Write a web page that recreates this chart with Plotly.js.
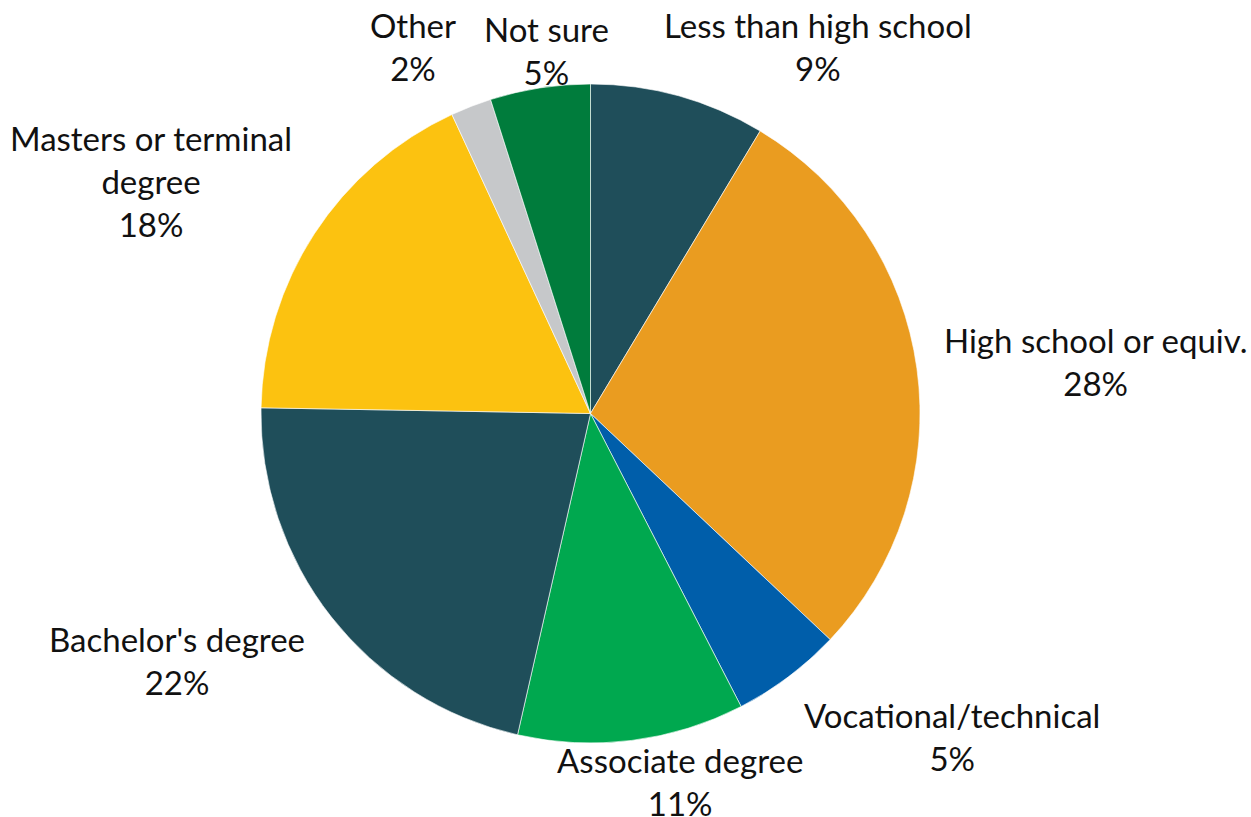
<!DOCTYPE html>
<html>
<head>
<meta charset="utf-8">
<script src="https://cdn.plot.ly/plotly-3.0.1.min.js"></script>
<style>html,body{margin:0;padding:0;background:#fff;}#chart{width:1251px;height:817px;}</style>
</head>
<body>
<div id="chart"></div>
<script>
// ---- data ----
const categories = ["Less than high school", "High school or equiv.", "Vocational/technical", "Associate degree", "Bachelor's degree", "Masters or terminal degree", "Other", "Not sure"];
const labelLines = ["Less than high school", "High school or equiv.", "Vocational/technical", "Associate degree", "Bachelor's degree", "Masters or terminal<br>degree", "Other", "Not sure"];
const values = [8.6, 28.4, 5.4, 11.1, 21.7, 17.8, 2.0, 4.9];
const colors = ["#1F4E5A", "#EA9C20", "#005EAA", "#00A84F", "#1F4E5A", "#FCC210", "#C6C8CA", "#007C3C"];

// ---- layout helpers (label placement, in pixels) ----
const W = 1251, H = 817;
const cx = 590.5, cy = 413.5, R = 329.5;
const labelPos = [[818, 46], [1095, 361], [952, 736], [680, 781], [177, 660], [151, 181], [413, 46], [546, 50]];

const total = values.reduce((a, b) => a + b, 0);
const annotations = categories.map((c, i) => ({
  xref: 'paper', yref: 'paper',
  x: labelPos[i][0] / W, y: 1 - labelPos[i][1] / H,
  xanchor: 'center', yanchor: 'middle',
  text: labelLines[i] + '<br>' + Math.round(values[i] / total * 100) + '%',
  showarrow: false,
  font: {family: 'Lato, sans-serif', size: 33, color: '#111'},
  align: 'center'
}));

const trace = {
  type: 'pie',
  labels: categories,
  values: values,
  sort: false,
  direction: 'clockwise',
  rotation: 0,
  marker: {colors: colors, line: {color: '#ffffff', width: 0.6}},
  textinfo: 'none',
  hoverinfo: 'label+percent',
  domain: {x: [(cx - R) / W, (cx + R) / W], y: [1 - (cy + R) / H, 1 - (cy - R) / H]}
};

const layout = {
  width: W, height: H,
  margin: {l: 0, r: 0, t: 0, b: 0},
  showlegend: false,
  paper_bgcolor: '#ffffff',
  annotations: annotations
};

Plotly.newPlot('chart', [trace], layout, {displayModeBar: false, staticPlot: true});
</script>
</body>
</html>
